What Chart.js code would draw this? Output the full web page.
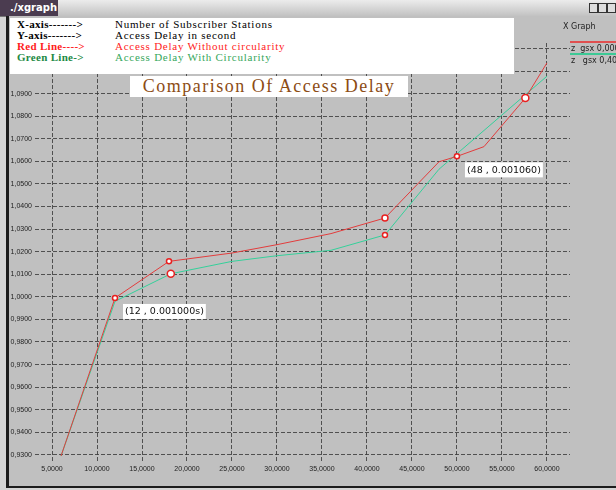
<!DOCTYPE html>
<html>
<head>
<meta charset="utf-8">
<script src="https://cdn.jsdelivr.net/npm/chart.js@4/dist/chart.umd.min.js"></script>
<style>
  html, body { margin: 0; padding: 0; }
  body { width: 616px; height: 490px; position: relative; overflow: hidden; background: #d4d4d4; }
  #frame { position: absolute; left: 6px; top: 16px; width: 607px; height: 470px; background: #c0c0c0;
           border-left: 3px solid #1c1c1c; border-bottom: 2px solid #1c1c1c; }
  #titlebar { position: absolute; left: 0; top: 0; width: 616px; height: 16px;
              background: linear-gradient(#ececec, #c2c2c2); border-bottom: 1px solid #777; }
  #tab { position: absolute; left: 0; top: 0; width: 48px; height: 16px; padding-left: 10px;
         background: #4b3c50; color: #fff; font: bold 10px "DejaVu Sans", sans-serif; line-height: 16px; }
  .btn { position: absolute; top: 3px; width: 7px; height: 8px; background: #ddd; border: 1px solid #333; }
  canvas { position: absolute; left: 0; top: 0; }
  #legend { position: absolute; left: 10px; top: 18px; width: 504px; height: 56px; background: #fff;
            font-family: "Liberation Serif", serif; font-size: 11px; }
  .row { position: absolute; left: 7px; height: 11px; line-height: 11px; white-space: nowrap; }
  .row b { display: inline-block; width: 98px; letter-spacing: 0.3px; }
  .row span { letter-spacing: 0.75px; }
  #title { position: absolute; left: 130px; top: 76px; width: 278px; height: 21px; background: #fff;
           color: #8c4c14; font: 18px "Liberation Serif", serif; letter-spacing: 1.5px;
           text-align: center; line-height: 21px; }
  .side { position: absolute; font: 8px "DejaVu Sans", sans-serif; color: #222; white-space: nowrap; }
  .sline { position: absolute; left: 570px; width: 46px; height: 2px; }
</style>
</head>
<body>
<div id="titlebar">
  <div id="tab">./xgraph</div>
  <div class="btn" style="left:589px"></div>
  <div class="btn" style="left:598px"></div>
  <div class="btn" style="left:607px"></div>
</div>
<div id="frame"></div>
<canvas id="chart" width="616" height="490"></canvas>

<div id="legend">
  <div class="row" style="top:1px"><b>X-axis-------&gt;</b><span>Number of Subscriber Stations</span></div>
  <div class="row" style="top:12px"><b>Y-axis-------&gt;</b><span>Access Delay in second</span></div>
  <div class="row" style="top:23px;color:#ff1c1c"><b>Red Line----&gt;</b><span>Access Delay Without circularity</span></div>
  <div class="row" style="top:34px"><b style="color:#1d8a44">Green Line-&gt;</b><span style="color:#36a75c">Access Delay With Circularity</span></div>
</div>
<div id="title">Comparison Of Access Delay</div>

<div class="side" style="left:563px;top:22px">X Graph</div>
<div class="sline" style="top:41px;background:#e05050"></div>
<div class="side" style="left:571px;top:44px">z&nbsp; gsx 0,0000</div>
<div class="sline" style="top:53px;background:#3cc995"></div>
<div class="side" style="left:571px;top:56px">z&nbsp;&nbsp; gsx 0,4000</div>

<script>
  // tick positions
  const xTicks = [5, 10, 15, 20, 25, 30, 35, 40, 45, 50, 55, 60];
  const yTicks = [0.93, 0.94, 0.95, 0.96, 0.97, 0.98, 0.99, 1.0, 1.01, 1.02,
                  1.03, 1.04, 1.05, 1.06, 1.07, 1.08, 1.09, 1.10, 1.11];

  // red line: access delay without circularity
  const redX = [6, 12, 18, 25, 30, 36, 42, 48, 50, 53, 57.6, 60];
  const redY = [0.9295, 0.9995, 1.0157, 1.0194, 1.0231, 1.028, 1.0349,
                1.0598, 1.0622, 1.0665, 1.088, 1.1036];

  // green line: access delay with circularity
  const greenX = [6, 12, 18.2, 25, 30, 36, 42, 48, 60];
  const greenY = [0.9295, 0.998, 1.0102, 1.0157, 1.0182, 1.0206, 1.0274, 1.0565, 1.0977];

  // point labels shown in the plot
  const notes = [
    { x: 12, y: 0.9995, text: "(12 , 0.001000s)" },
    { x: 50, y: 1.0622, text: "(48 , 0.001060)" },
  ];

  const redMarks = [0, 2.5, 2.5, 0, 0, 0, 3, 0, 2.5, 0, 3.5, 0];
  const greenMarks = [0, 0, 3.5, 0, 0, 0, 2.5, 0, 0];

  const toPts = (xs, ys) => xs.map((x, i) => ({ x: x, y: ys[i] }));
  const fmt = (v) => Number(v).toFixed(4).replace(".", ",");

  const notePlugin = {
    id: "notes",
    afterDatasetsDraw(chart) {
      const ctx = chart.ctx;
      const xs = chart.scales.x, ys = chart.scales.y;
      ctx.save();
      ctx.font = '9.5px "DejaVu Sans", sans-serif';
      ctx.textBaseline = "middle";
      notes.forEach((n) => {
        const px = xs.getPixelForValue(n.x);
        const py = ys.getPixelForValue(n.y);
        const w = ctx.measureText(n.text).width + 4;
        const bx = px + 8, by = py + 6;
        ctx.fillStyle = "#fff";
        ctx.fillRect(bx, by, w, 15);
        ctx.fillStyle = "#111";
        ctx.fillText(n.text, bx + 2, by + 8);
      });
      ctx.restore();
    },
  };

  const gridOpts = { color: "rgba(60,60,60,0.85)", lineWidth: 1, drawTicks: false };
  const borderOpts = { display: false, dash: [4, 2] };
  const tickFont = { family: "Liberation Sans", size: 7 };

  new Chart(document.getElementById("chart"), {
    type: "line",
    data: {
      datasets: [
        {
          label: "Access Delay Without circularity",
          data: toPts(redX, redY),
          borderColor: "#e23c3c",
          borderWidth: 1,
          pointRadius: redMarks,
          pointBackgroundColor: "#fff",
          pointBorderColor: "#e82020",
          pointBorderWidth: 1.5,
          tension: 0,
        },
        {
          label: "Access Delay With Circularity",
          data: toPts(greenX, greenY),
          borderColor: "#34d09a",
          borderWidth: 1,
          pointRadius: greenMarks,
          pointBackgroundColor: "#fff",
          pointBorderColor: "#e82020",
          pointBorderWidth: 1.5,
          tension: 0,
        },
      ],
    },
    options: {
      responsive: false,
      animation: false,
      devicePixelRatio: 1,
      layout: { padding: { left: 8, right: 46, top: 43, bottom: 15 } },
      plugins: { legend: { display: false }, tooltip: { enabled: false } },
      scales: {
        x: {
          type: "linear",
          min: 3.11,
          max: 62.56,
          afterBuildTicks: (s) => { s.ticks = xTicks.map((v) => ({ value: v })); },
          afterFit: (s) => { s.height = 14; },
          ticks: { callback: fmt, font: tickFont, color: "#222", padding: 4, maxRotation: 0, autoSkip: false },
          grid: gridOpts,
          border: borderOpts,
        },
        y: {
          type: "linear",
          min: 0.9273,
          max: 1.1124,
          afterBuildTicks: (s) => { s.ticks = yTicks.map((v) => ({ value: v })); },
          afterFit: (s) => { s.width = 27; },
          ticks: { callback: fmt, font: tickFont, color: "#222", padding: 3, autoSkip: false },
          grid: gridOpts,
          border: borderOpts,
        },
      },
    },
    plugins: [notePlugin],
  });
</script>
</body>
</html>
